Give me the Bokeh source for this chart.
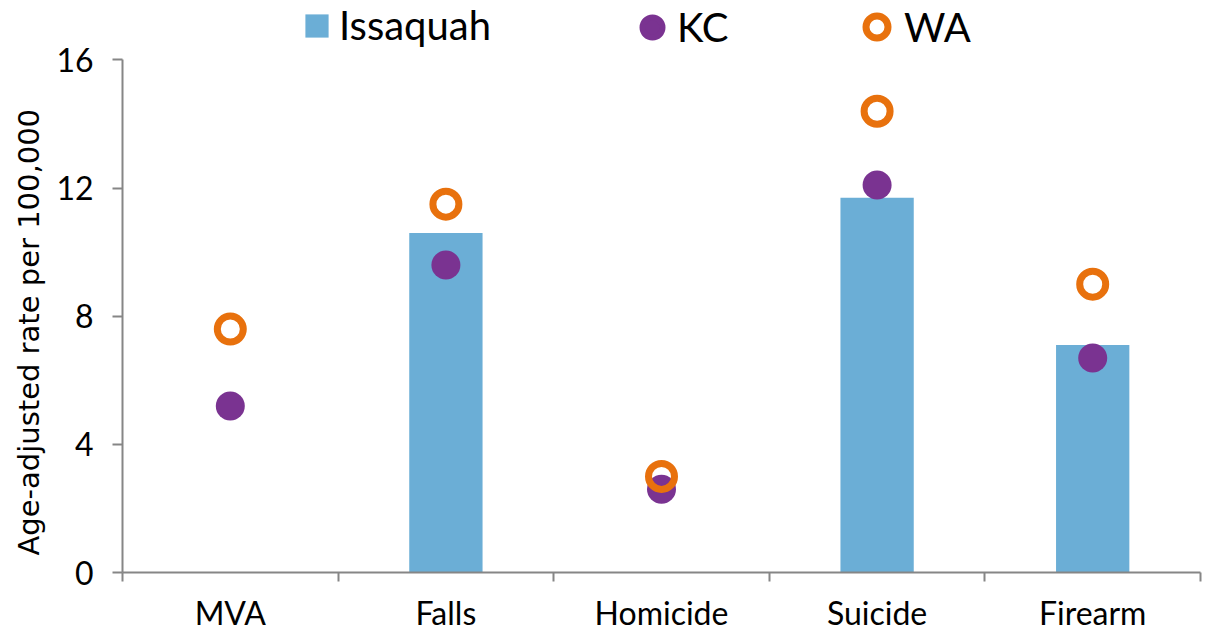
from bokeh.plotting import figure
from bokeh.models import (ColumnDataSource, Legend, LegendItem, FixedTicker, Range1d, Title)
from bokeh.embed import file_html
from bokeh.resources import INLINE

categories = ["MVA", "Falls", "Homicide", "Suicide", "Firearm"]
issaquah = [float("nan"), 10.6, float("nan"), 11.7, 7.1]
kc = [5.2, 9.6, 2.6, 12.1, 6.7]
wa = [7.6, 11.5, 3.0, 14.4, 9.0]
y_ticks = [0, 4, 8, 12, 16]
y_max = 16

BAR = "#6baed6"
PURPLE = "#7a3391"
ORANGE = "#e8710d"
AXIS = "#868686"

W, H = 1211, 634
LEFT, RIGHT, BOTTOM_AXIS_Y, TOP_TICK_Y = 122, 11, 577, 60
frame_h = BOTTOM_AXIS_Y
y_end = y_max * frame_h / (BOTTOM_AXIS_Y - TOP_TICK_Y)

xs = [i + 0.5 for i in range(len(categories))]
src = ColumnDataSource(dict(x=xs, cat=categories, iss=issaquah, kc=kc, wa=wa))

p = figure(width=W, height=H, output_backend="svg", toolbar_location=None,
           x_range=Range1d(0, len(categories)), y_range=Range1d(0, y_end),
           min_border_left=LEFT, min_border_right=RIGHT, min_border_top=0,
           min_border_bottom=H - BOTTOM_AXIS_Y)
p.outline_line_color = None
p.xgrid.grid_line_color = None
p.ygrid.grid_line_color = None
p.background_fill_color = "white"

r_bar = p.vbar(x="x", top="iss", width=0.34, bottom=0, source=src,
               fill_color=BAR, line_color=None)
r_kc = p.scatter(x="x", y="kc", source=src, size=29, marker="circle",
                 fill_color=PURPLE, line_color=None)
r_wa = p.scatter(x="x", y="wa", source=src, size=26, marker="circle",
                 fill_color="white", fill_alpha=0, line_color=ORANGE, line_width=7)
# legend-only swatch for KC (same look, sized for the legend box)
r_kc_key = p.scatter(x=[float("nan")], y=[float("nan")], size=29, marker="circle",
                     fill_color=PURPLE, line_color=PURPLE, line_width=6)

# x axis: labels at category centres, tick marks at category boundaries
p.xaxis.ticker = FixedTicker(ticks=xs, minor_ticks=list(range(len(categories) + 1)))
p.xaxis.major_label_overrides = {x: c for x, c in zip(xs, categories)}
p.xaxis.major_tick_out = 0
p.xaxis.major_tick_in = 0
p.xaxis.minor_tick_out = 9
p.xaxis.minor_tick_in = 0
p.xaxis.minor_tick_line_color = AXIS
p.xaxis.minor_tick_line_width = 2
p.xaxis.axis_line_color = AXIS
p.xaxis.axis_line_width = 2
p.xaxis.major_label_text_font = "Lato"
p.xaxis.major_label_text_font_size = "32px"
p.xaxis.major_label_text_color = "black"
p.xaxis.major_label_standoff = 11

p.yaxis.ticker = FixedTicker(ticks=y_ticks, minor_ticks=[])
p.yaxis.bounds = (0, y_max)
p.yaxis.major_tick_out = 10
p.yaxis.major_tick_in = 0
p.yaxis.major_tick_line_color = AXIS
p.yaxis.major_tick_line_width = 2
p.yaxis.axis_line_color = AXIS
p.yaxis.axis_line_width = 2
p.yaxis.major_label_text_font = "Lato"
p.yaxis.major_label_text_font_size = "32px"
p.yaxis.major_label_text_color = "black"
p.yaxis.major_label_standoff = 19

# y-axis title, placed along the 0..16 part of the axis
ytitle = Title(text="Age-adjusted rate per 100,000", align="left", offset=17,
               standoff=16, text_font="DejaVu Sans", text_font_size="29px",
               text_font_style="normal", text_color="black")
p.add_layout(ytitle, "left")


def make_legend(label, renderer, loc, gw, gh, standoff):
    lg = Legend(items=[LegendItem(label=label, renderers=[renderer])], location=loc,
                orientation="horizontal", glyph_width=gw, glyph_height=gh,
                label_standoff=standoff, padding=0, margin=0, spacing=0,
                border_line_color=None, background_fill_alpha=0,
                label_text_font="Lato", label_text_font_size="40px",
                label_text_color="black")
    p.add_layout(lg, "center")


make_legend("Issaquah", r_bar, (180, 523), 29, 29, 8)
make_legend("KC", r_kc_key, (505, 520), 50, 50, 0)
make_legend("WA", r_wa, (727, 518), 55, 55, 0)

open("out.html", "w").write(file_html(p, INLINE))
